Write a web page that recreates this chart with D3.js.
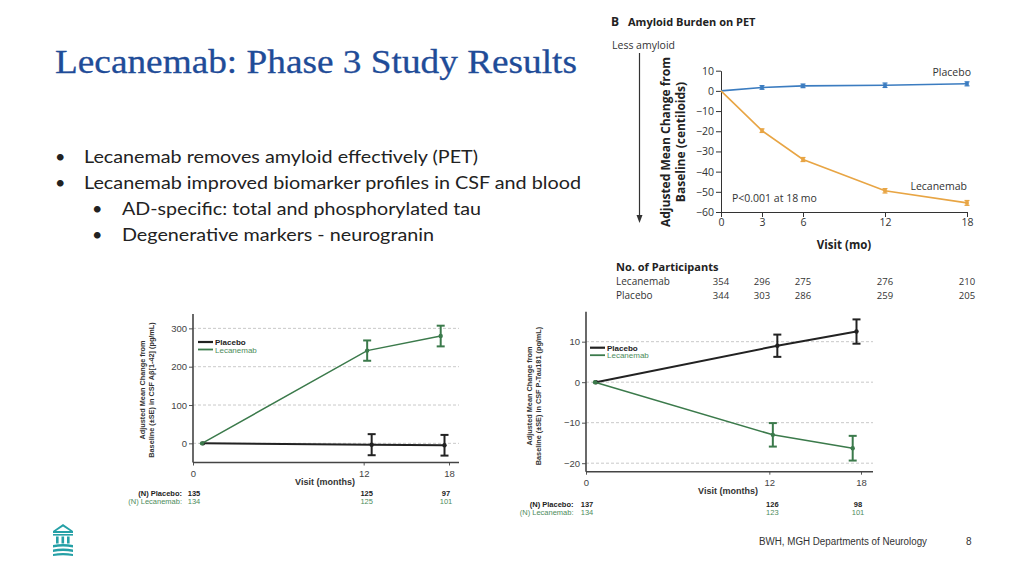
<!DOCTYPE html>
<html><head><meta charset="utf-8">
<script src="https://cdn.jsdelivr.net/npm/d3@7"></script>
<style>body{margin:0;background:#fff}svg{display:block}</style>
</head><body><svg id="c" width="1024" height="576"></svg>
<script>
// ---------- DATA ----------
const petVisits = [0, 3, 6, 12, 18];
const petPlacebo = [0, 1.7, 2.5, 2.8, 3.5];
const petPlaceboSE = [0, 0.9, 0.9, 1.1, 1.0];
const petLecanemab = [0, -19.7, -34.0, -49.5, -55.5];
const petLecanemabSE = [0, 0.9, 1.0, 1.1, 1.2];
const petYTicks = [10, 0, -10, -20, -30, -40, -50, -60];
const petNLecanemab = [354, 296, 275, 276, 210];
const petNPlacebo = [344, 303, 286, 259, 205];

const csfVisits = [0, 12, 18];
const abPlacebo = [0, -3.5, -5];
const abPlaceboSE = [0, 27.5, 27];
const abLecanemab = [0, 242, 280];
const abLecanemabSE = [0, 26.5, 27];
const abYTicks = [0, 100, 200, 300];
const abNPlacebo = [135, 125, 97];
const abNLecanemab = [134, 125, 101];

const tauPlacebo = [0, 9.0, 12.5];
const tauPlaceboSE = [0, 2.75, 3.0];
const tauLecanemab = [0, -13.0, -16.3];
const tauLecanemabSE = [0, 2.9, 3.05];
const tauYTicks = [10, 0, -10, -20];
const tauNPlacebo = [137, 126, 98];
const tauNLecanemab = [134, 123, 101];

const bullets = [
  "Lecanemab removes amyloid effectively (PET)",
  "Lecanemab improved biomarker profiles in CSF and blood",
  "AD-specific: total and phosphorylated tau",
  "Degenerative markers - neurogranin"
];
const bulletLevels = [0, 0, 1, 1];

// ---------- DRAWING ----------
const svg = d3.select('#c');

// Title
svg.append('text').attr('x', 55).attr('y', 73)
  .attr('font-family', 'Liberation Serif, serif').attr('font-size', 34)
  .attr('fill', '#1f4c98').attr('stroke', '#1f4c98').attr('stroke-width', 0.3)
  .attr('textLength', 522).attr('lengthAdjust', 'spacingAndGlyphs')
  .text('Lecanemab: Phase 3 Study Results');

// Bullets
const bulletWidths = [394, 497, 359, 312];
bullets.forEach((b, i) => {
  const lvl = bulletLevels[i];
  const y = 163 + i * 26;
  svg.append('text').attr('x', lvl ? 92 : 55).attr('y', y)
    .attr('font-family', 'Lato, sans-serif').attr('font-size', 18).attr('fill', '#222').text('•');
  svg.append('text').attr('x', lvl ? 122 : 84).attr('y', y)
    .attr('font-family', 'Lato, sans-serif').attr('font-size', 18).attr('fill', '#222')
    .attr('textLength', bulletWidths[i]).attr('lengthAdjust', 'spacingAndGlyphs').text(b);
});

// ---------- PET chart ----------
const blue = '#3b7cc0', orange = '#e8a544';
const xP = d3.scaleLinear().domain([0, 18]).range([721, 967]);
const yP = d3.scaleLinear().domain([-60, 10]).range([212, 70.7]);
const gP = svg.append('g').attr('font-family', 'Open Sans, sans-serif');

gP.append('text').attr('x', 611).attr('y', 26).attr('font-size', 12).attr('font-weight', 'bold').attr('fill', '#222').text('B');
gP.append('text').attr('x', 628).attr('y', 26).attr('font-size', 11).attr('font-weight', 'bold').attr('fill', '#222').text('Amyloid Burden on PET');
gP.append('text').attr('x', 612).attr('y', 49).attr('font-size', 10.5).attr('fill', '#333').text('Less amyloid');
// arrow
gP.append('line').attr('x1', 639.5).attr('x2', 639.5).attr('y1', 53).attr('y2', 216).attr('stroke', '#333').attr('stroke-width', 1.2);
gP.append('path').attr('d', 'M636.5,215 L642.5,215 L639.5,223 Z').attr('fill', '#333');

const yAxP = gP.append('g').attr('transform', 'translate(721,0)')
  .call(d3.axisLeft(yP).tickValues(petYTicks).tickSize(5).tickSizeOuter(0).tickPadding(2));
const xAxP = gP.append('g').attr('transform', 'translate(0,212)')
  .call(d3.axisBottom(xP).tickValues(petVisits).tickSize(5).tickSizeOuter(0).tickPadding(2));
[yAxP, xAxP].forEach(a => {
  a.selectAll('path,line').attr('stroke', '#333').attr('stroke-width', 1);
  a.selectAll('text').attr('font-family', 'Open Sans, sans-serif').attr('font-size', 10.5).attr('fill', '#333');
});

gP.append('text').attr('transform', 'translate(670,142) rotate(-90)').attr('text-anchor', 'middle')
  .attr('font-size', 12).attr('font-weight', 'bold').attr('fill', '#222').text('Adjusted Mean Change from');
gP.append('text').attr('transform', 'translate(685,142) rotate(-90)').attr('text-anchor', 'middle')
  .attr('font-size', 12).attr('font-weight', 'bold').attr('fill', '#222').text('Baseline (centiloids)');
gP.append('text').attr('x', 844).attr('y', 249).attr('text-anchor', 'middle')
  .attr('font-size', 11.5).attr('font-weight', 'bold').attr('fill', '#222').text('Visit (mo)');

function petSeries(vals, se, color) {
  const pts = petVisits.map((v, i) => ({ x: v, y: vals[i], se: se[i] }));
  gP.append('path').datum(pts).attr('fill', 'none').attr('stroke', color).attr('stroke-width', 1.6)
    .attr('d', d3.line().x(d => xP(d.x)).y(d => yP(d.y)));
  const eb = gP.append('g').selectAll('g').data(pts.filter(d => d.se > 0)).join('g');
  eb.append('line').attr('x1', d => xP(d.x)).attr('x2', d => xP(d.x))
    .attr('y1', d => yP(d.y - d.se)).attr('y2', d => yP(d.y + d.se)).attr('stroke', color).attr('stroke-width', 1.4);
  eb.append('line').attr('x1', d => xP(d.x) - 2.5).attr('x2', d => xP(d.x) + 2.5)
    .attr('y1', d => yP(d.y - d.se)).attr('y2', d => yP(d.y - d.se)).attr('stroke', color).attr('stroke-width', 1.2);
  eb.append('line').attr('x1', d => xP(d.x) - 2.5).attr('x2', d => xP(d.x) + 2.5)
    .attr('y1', d => yP(d.y + d.se)).attr('y2', d => yP(d.y + d.se)).attr('stroke', color).attr('stroke-width', 1.2);
  eb.append('rect').attr('x', d => xP(d.x) - 1.8).attr('y', d => yP(d.y) - 1.8).attr('width', 3.6).attr('height', 3.6).attr('fill', color);
}
petSeries(petPlacebo, petPlaceboSE, blue);
petSeries(petLecanemab, petLecanemabSE, orange);

gP.append('text').attr('x', 971).attr('y', 75.5).attr('text-anchor', 'end').attr('font-size', 10.5).attr('fill', '#333').text('Placebo');
gP.append('text').attr('x', 967).attr('y', 189.5).attr('text-anchor', 'end').attr('font-size', 10.5).attr('fill', '#333').text('Lecanemab');
gP.append('text').attr('x', 732).attr('y', 202).attr('font-size', 10.5).attr('fill', '#333').text('P<0.001 at 18 mo');

gP.append('text').attr('x', 616).attr('y', 271).attr('font-size', 11).attr('font-weight', 'bold').attr('fill', '#222').text('No. of Participants');
gP.append('text').attr('x', 616).attr('y', 285).attr('font-size', 10).attr('fill', '#333').text('Lecanemab');
gP.append('text').attr('x', 616).attr('y', 299).attr('font-size', 10).attr('fill', '#333').text('Placebo');
gP.append('g').selectAll('text').data(petNLecanemab).join('text')
  .attr('x', (d, i) => xP(petVisits[i])).attr('y', 285).attr('text-anchor', 'middle')
  .attr('font-size', 9.5).attr('fill', '#333').text(d => d);
gP.append('g').selectAll('text').data(petNPlacebo).join('text')
  .attr('x', (d, i) => xP(petVisits[i])).attr('y', 299).attr('text-anchor', 'middle')
  .attr('font-size', 9.5).attr('fill', '#333').text(d => d);

// ---------- CSF charts ----------
const black = '#222', green = '#3b7a4b', greenText = '#4d8c5c';
// pixel dodges of plotted points (style)
const dodgePlacebo = [10, 8, -4.5];
const dodgeLecanemab = [9, 3.5, -8.3];
const nDodge = [1, 3, -3];

function csfChart(cfg) {
  const g = svg.append('g').attr('font-family', 'Liberation Sans, Arial, sans-serif');
  const x = d3.scaleLinear().domain([0, 18]).range([cfg.x0, cfg.x18]);
  const y = d3.scaleLinear().domain(cfg.yDomain).range([cfg.yBottom, cfg.yTop]);
  // grid
  g.append('g').selectAll('line').data(cfg.yTicks).join('line')
    .attr('x1', cfg.x0).attr('x2', cfg.xEnd).attr('y1', d => y(d)).attr('y2', d => y(d))
    .attr('stroke', '#bbb').attr('stroke-width', 0.8).attr('stroke-dasharray', '3,2');
  // y axis
  const ya = g.append('g').attr('transform', `translate(${cfg.x0},0)`)
    .call(d3.axisLeft(y).tickValues(cfg.yTicks).tickSize(4).tickSizeOuter(0).tickPadding(2).tickFormat(d3.format('d')));
  ya.select('.domain').remove();
  g.append('line').attr('x1', cfg.x0).attr('x2', cfg.x0).attr('y1', cfg.yTop).attr('y2', cfg.yBottom).attr('stroke', '#444').attr('stroke-width', 1.6);
  // x axis
  const xa = g.append('g').attr('transform', `translate(0,${cfg.yBottom})`)
    .call(d3.axisBottom(x).tickValues(csfVisits).tickSize(3).tickSizeOuter(0).tickPadding(5));
  xa.select('.domain').remove();
  g.append('line').attr('x1', cfg.x0).attr('x2', cfg.xEnd).attr('y1', cfg.yBottom).attr('y2', cfg.yBottom).attr('stroke', '#444').attr('stroke-width', 1.6);
  [ya, xa].forEach(a => {
    a.selectAll('line').attr('stroke', '#555');
    a.selectAll('text').attr('font-family', 'Liberation Sans, Arial, sans-serif').attr('font-size', 9.5).attr('fill', '#444');
  });
  // y label
  g.append('text').attr('transform', `translate(${cfg.ylabX},${cfg.ylabY}) rotate(-90)`).attr('text-anchor', 'middle')
    .attr('font-size', 7.3).attr('font-weight', 'bold').attr('fill', '#333').text('Adjusted Mean Change from');
  g.append('text').attr('transform', `translate(${cfg.ylabX + 8.5},${cfg.ylabY}) rotate(-90)`).attr('text-anchor', 'middle')
    .attr('font-size', 7.3).attr('font-weight', 'bold').attr('fill', '#333').text(cfg.ylab2);
  g.append('text').attr('x', cfg.visitX).attr('y', cfg.yBottom + 22.5).attr('text-anchor', 'middle')
    .attr('font-size', 9).attr('font-weight', 'bold').attr('fill', '#333').text('Visit (months)');

  function series(vals, se, dodge, color) {
    const pts = csfVisits.map((v, i) => ({ px: x(v) + dodge[i], y: vals[i], se: se[i] }));
    g.append('path').datum(pts).attr('fill', 'none').attr('stroke', color).attr('stroke-width', color === black ? 2 : 1.5)
      .attr('d', d3.line().x(d => d.px).y(d => y(d.y)));
    const eb = g.append('g').selectAll('g').data(pts.filter(d => d.se > 0)).join('g')
      .attr('stroke', color).attr('stroke-width', 2);
    eb.append('line').attr('x1', d => d.px).attr('x2', d => d.px).attr('y1', d => y(d.y - d.se)).attr('y2', d => y(d.y + d.se));
    eb.append('line').attr('x1', d => d.px - 4).attr('x2', d => d.px + 4).attr('y1', d => y(d.y - d.se)).attr('y2', d => y(d.y - d.se));
    eb.append('line').attr('x1', d => d.px - 4).attr('x2', d => d.px + 4).attr('y1', d => y(d.y + d.se)).attr('y2', d => y(d.y + d.se));
    g.append('g').selectAll('circle').data(pts).join('circle')
      .attr('cx', d => d.px).attr('cy', d => y(d.y)).attr('r', 2.2).attr('fill', color);
  }
  series(cfg.plac, cfg.placSE, dodgePlacebo, black);
  series(cfg.lec, cfg.lecSE, dodgeLecanemab, green);

  // legend
  const lg = g.append('g').attr('transform', `translate(${cfg.legX},${cfg.legY})`);
  lg.append('line').attr('x1', 0).attr('x2', 15).attr('y1', 0).attr('y2', 0).attr('stroke', black).attr('stroke-width', 2.2);
  lg.append('line').attr('x1', 0).attr('x2', 15).attr('y1', 7.5).attr('y2', 7.5).attr('stroke', green).attr('stroke-width', 1.8);
  lg.append('text').attr('x', 17).attr('y', 3).attr('font-size', 8).attr('font-weight', 'bold').attr('fill', black).text('Placebo');
  lg.append('text').attr('x', 17).attr('y', 10.5).attr('font-size', 8).attr('fill', greenText).text('Lecanemab');

  // N table
  g.append('text').attr('x', cfg.nLabX).attr('y', cfg.nY).attr('text-anchor', 'end')
    .attr('font-size', 7.5).attr('font-weight', 'bold').attr('fill', black).text('(N) Placebo:');
  g.append('text').attr('x', cfg.nLabX).attr('y', cfg.nY + 8).attr('text-anchor', 'end')
    .attr('font-size', 7.5).attr('fill', greenText).text('(N) Lecanemab:');
  g.append('g').selectAll('text').data(cfg.nPlac).join('text')
    .attr('x', (d, i) => x(csfVisits[i]) + nDodge[i]).attr('y', cfg.nY).attr('text-anchor', 'middle')
    .attr('font-size', 7.5).attr('font-weight', 'bold').attr('fill', black).text(d => d);
  g.append('g').selectAll('text').data(cfg.nLec).join('text')
    .attr('x', (d, i) => x(csfVisits[i]) + nDodge[i]).attr('y', cfg.nY + 8).attr('text-anchor', 'middle')
    .attr('font-size', 7.5).attr('fill', greenText).text(d => d);
}

csfChart({
  x0: 193, x18: 449, xEnd: 459, yTop: 314, yBottom: 462.5, yDomain: [-50, 337.5],
  yTicks: abYTicks, plac: abPlacebo, placSE: abPlaceboSE, lec: abLecanemab, lecSE: abLecanemabSE,
  ylabX: 145, ylabY: 390, ylab2: 'Baseline (±SE) in CSF Aβ[1-42] (pg/mL)', visitX: 325,
  legX: 198, legY: 342, nLabX: 182, nY: 495.5, nPlac: abNPlacebo, nLec: abNLecanemab
});
csfChart({
  x0: 586, x18: 861, xEnd: 873, yTop: 311.7, yBottom: 471.7, yDomain: [-22.1, 17.4],
  yTicks: tauYTicks, plac: tauPlacebo, placSE: tauPlaceboSE, lec: tauLecanemab, lecSE: tauLecanemabSE,
  ylabX: 532, ylabY: 396, ylab2: 'Baseline (±SE) in CSF P-Tau181 (pg/mL)', visitX: 728,
  legX: 590, legY: 347.7, nLabX: 573.5, nY: 507, nPlac: tauNPlacebo, nLec: tauNLecanemab
});

// ---------- Footer ----------
svg.append('text').attr('x', 759).attr('y', 545).attr('font-family', 'Liberation Sans Narrow, Liberation Sans, sans-serif')
  .attr('font-size', 10).attr('fill', '#333').attr('textLength', 168).attr('lengthAdjust', 'spacingAndGlyphs')
  .text('BWH, MGH Departments of Neurology');
svg.append('text').attr('x', 966).attr('y', 545).attr('font-family', 'Liberation Sans, sans-serif')
  .attr('font-size', 10).attr('fill', '#333').text('8');

// Logo
const teal = '#25a0a6';
const lg = svg.append('g').attr('fill', teal);
lg.append('path').attr('d', 'M53,531 L63,524 L73,531 L73,533 L53,533 Z M56,531 L63,526.5 L70,531 Z').attr('fill-rule', 'evenodd');
lg.append('rect').attr('x', 53).attr('y', 534).attr('width', 20).attr('height', 1.6);
[56, 61.5, 67].forEach(cx => lg.append('rect').attr('x', cx).attr('y', 536.5).attr('width', 2.6).attr('height', 7));
lg.append('path').attr('d', 'M53,545 Q63,543 73,545 L73,547.5 Q63,545.5 53,547.5 Z');
lg.append('path').attr('d', 'M53,549.5 Q63,547.5 73,549.5 L73,552 Q63,550 53,552 Z');
lg.append('path').attr('d', 'M53,554 Q63,552 73,554 L73,556 Q63,554.5 53,556 Z');
</script>
</body></html>
